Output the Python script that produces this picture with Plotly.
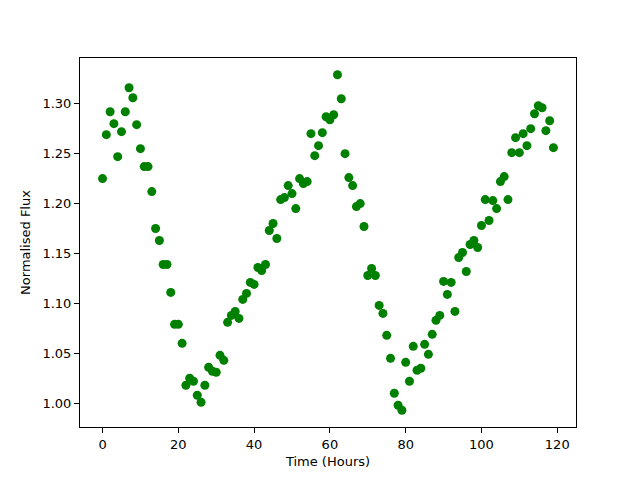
import plotly.graph_objects as go

hours = list(range(120))
flux = [
    1.225, 1.269, 1.292, 1.280, 1.247, 1.272, 1.292, 1.316, 1.306, 1.279,
    1.255, 1.237, 1.237, 1.212, 1.175, 1.163, 1.139, 1.139, 1.111, 1.079,
    1.079, 1.060, 1.018, 1.025, 1.022, 1.008, 1.001, 1.018, 1.036, 1.032,
    1.031, 1.048, 1.043, 1.081, 1.088, 1.092, 1.085, 1.104, 1.110, 1.121,
    1.119, 1.136, 1.133, 1.139, 1.173, 1.180, 1.165, 1.204, 1.206, 1.218,
    1.210, 1.195, 1.225, 1.220, 1.222, 1.270, 1.248, 1.258, 1.271, 1.287,
    1.284, 1.289, 1.329, 1.305, 1.250, 1.226, 1.218, 1.197, 1.200, 1.177,
    1.128, 1.135, 1.128, 1.098, 1.090, 1.068, 1.045, 1.010, 0.998, 0.993,
    1.041, 1.022, 1.057, 1.033, 1.035, 1.059, 1.049, 1.069, 1.083, 1.088,
    1.122, 1.109, 1.121, 1.092, 1.146, 1.151, 1.132, 1.159, 1.163, 1.156,
    1.178, 1.204, 1.183, 1.203, 1.195, 1.222, 1.227, 1.204, 1.251, 1.266,
    1.251, 1.270, 1.258, 1.275, 1.290, 1.298, 1.296, 1.273, 1.283, 1.256,
]

xmin, xmax = min(hours), max(hours)
ymin, ymax = min(flux), max(flux)
xp = (xmax - xmin) * 0.05
yp = (ymax - ymin) * 0.05

fig = go.Figure(go.Scatter(
    x=hours, y=flux, mode="markers",
    marker=dict(color="#008000", size=9, line=dict(width=0)),
))

axis_common = dict(
    showgrid=False, zeroline=False, showline=True, linecolor="black",
    linewidth=1, mirror=True, ticks="outside", ticklen=5, tickwidth=1,
    tickcolor="black", automargin=False,
    tickfont=dict(family="DejaVu Sans", size=13, color="black"),
    title_font=dict(family="DejaVu Sans", size=13, color="black"),
)

fig.update_layout(
    width=640, height=480,
    margin=dict(l=72, r=72, t=50, b=61),
    paper_bgcolor="white", plot_bgcolor="white",
    showlegend=False,
    xaxis=dict(range=[xmin - xp, xmax + xp], tickvals=[0, 20, 40, 60, 80, 100, 120],
               title=dict(text="Time (Hours)", standoff=6), **axis_common),
    yaxis=dict(range=[ymin - yp, ymax + yp],
               tickvals=[1.00, 1.05, 1.10, 1.15, 1.20, 1.25, 1.30], tickformat=".2f",
               title=dict(text="Normalised Flux", standoff=8), **axis_common),
)

fig.write_html("out.html")
